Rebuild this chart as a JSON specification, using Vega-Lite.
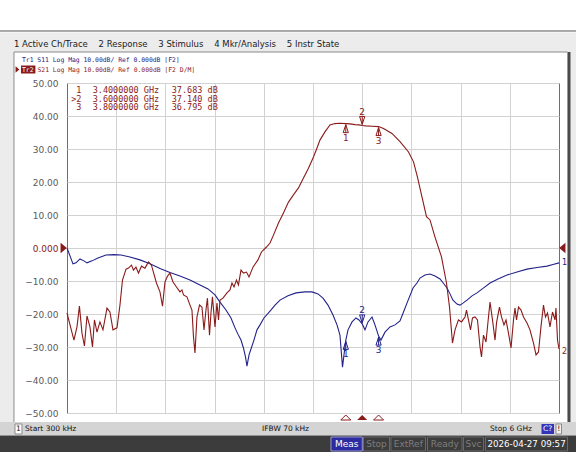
{
  "$schema": "https://vega.github.io/schema/vega-lite/v6.json",
  "width": 492,
  "height": 330,
  "autosize": "none",
  "padding": {"left": 67, "top": 83, "right": 17, "bottom": 41},
  "background": "white",
  "config": {
    "font": "DejaVu Sans",
    "view": {"stroke": "#6f6f6f", "strokeWidth": 1},
    "text": {"baseline": "middle"},
    "axis": {"labelOverlap": false},
    "axisX": {"grid": true, "gridColor": "#d2d2d2", "labels": false, "ticks": false, "domain": false},
    "axisY": {"grid": true, "gridColor": "#d2d2d2", "ticks": false, "domain": false, "labelFont": "DejaVu Sans", "labelFontSize": 9, "labelPadding": 9, "labelColor": "#5a5a5a", "labelOverlap": false}
  },
  "datasets": {
    "s21": [
      {"f":0.0003,"db":-19.7},{"f":0.037,"db":-23.3},{"f":0.085,"db":-27.9},{"f":0.122,"db":-23.9},{"f":0.152,"db":-17.6},{"f":0.183,"db":-25.8},{"f":0.213,"db":-29.7},{"f":0.244,"db":-20.6},{"f":0.28,"db":-23.9},{"f":0.311,"db":-30.0},{"f":0.335,"db":-21.8},{"f":0.366,"db":-25.5},{"f":0.402,"db":-22.4},{"f":0.439,"db":-24.8},{"f":0.488,"db":-18.2},{"f":0.524,"db":-19.4},{"f":0.561,"db":-24.8},{"f":0.61,"db":-24.2},{"f":0.646,"db":-17.3},{"f":0.677,"db":-9.7},{"f":0.72,"db":-6.4},{"f":0.75,"db":-6.1},{"f":0.787,"db":-5.2},{"f":0.811,"db":-6.7},{"f":0.841,"db":-5.8},{"f":0.872,"db":-7.6},{"f":0.909,"db":-5.5},{"f":0.951,"db":-6.1},{"f":0.994,"db":-4.2},{"f":1.03,"db":-5.2},{"f":1.091,"db":-10.6},{"f":1.134,"db":-13.3},{"f":1.165,"db":-17.6},{"f":1.195,"db":-10.3},{"f":1.226,"db":-8.5},{"f":1.256,"db":-7.6},{"f":1.293,"db":-10.3},{"f":1.335,"db":-11.8},{"f":1.378,"db":-13.3},{"f":1.402,"db":-12.7},{"f":1.421,"db":-14.2},{"f":1.463,"db":-14.8},{"f":1.5,"db":-17.3},{"f":1.524,"db":-18.8},{"f":1.543,"db":-27.0},{"f":1.561,"db":-31.8},{"f":1.585,"db":-20.9},{"f":1.616,"db":-17.3},{"f":1.646,"db":-17.9},{"f":1.671,"db":-24.8},{"f":1.695,"db":-18.8},{"f":1.713,"db":-15.2},{"f":1.738,"db":-26.4},{"f":1.756,"db":-19.7},{"f":1.774,"db":-14.8},{"f":1.805,"db":-23.9},{"f":1.829,"db":-16.7},{"f":1.848,"db":-21.8},{"f":1.866,"db":-15.8},{"f":1.902,"db":-15.2},{"f":1.951,"db":-13.6},{"f":1.988,"db":-12.7},{"f":2.012,"db":-10.6},{"f":2.037,"db":-11.8},{"f":2.067,"db":-9.7},{"f":2.091,"db":-11.2},{"f":2.122,"db":-6.7},{"f":2.152,"db":-7.6},{"f":2.189,"db":-7.3},{"f":2.22,"db":-8.8},{"f":2.268,"db":-5.8},{"f":2.329,"db":-3.6},{"f":2.372,"db":-1.2},{"f":2.433,"db":0.3},{"f":2.476,"db":1.5},{"f":2.518,"db":3.9},{"f":2.579,"db":7.6},{"f":2.64,"db":10.6},{"f":2.701,"db":13.9},{"f":2.762,"db":16.1},{"f":2.823,"db":18.2},{"f":2.884,"db":21.2},{"f":2.945,"db":24.2},{"f":3.006,"db":27.6},{"f":3.049,"db":30.3},{"f":3.085,"db":32.7},{"f":3.146,"db":35.2},{"f":3.207,"db":37.3},{"f":3.268,"db":37.7},{"f":3.329,"db":37.8},{"f":3.4,"db":37.683},{"f":3.451,"db":37.6},{"f":3.512,"db":37.4},{"f":3.561,"db":37.3},{"f":3.6,"db":37.14},{"f":3.646,"db":37.0},{"f":3.72,"db":36.9},{"f":3.8,"db":36.795},{"f":3.86,"db":36.2},{"f":3.963,"db":34.7},{"f":4.061,"db":32.2},{"f":4.165,"db":29.1},{"f":4.226,"db":26.1},{"f":4.274,"db":21.5},{"f":4.329,"db":15.5},{"f":4.384,"db":9.5},{"f":4.427,"db":8.5},{"f":4.488,"db":3.3},{"f":4.567,"db":-2.7},{"f":4.628,"db":-10.6},{"f":4.665,"db":-17.9},{"f":4.701,"db":-28.8},{"f":4.732,"db":-24.8},{"f":4.774,"db":-21.8},{"f":4.811,"db":-22.4},{"f":4.854,"db":-20.9},{"f":4.872,"db":-18.8},{"f":4.896,"db":-21.8},{"f":4.921,"db":-24.8},{"f":4.945,"db":-21.2},{"f":4.976,"db":-20.9},{"f":5.006,"db":-21.8},{"f":5.037,"db":-30.0},{"f":5.055,"db":-33.0},{"f":5.079,"db":-26.4},{"f":5.11,"db":-28.5},{"f":5.14,"db":-20.9},{"f":5.159,"db":-16.4},{"f":5.189,"db":-21.8},{"f":5.22,"db":-27.9},{"f":5.238,"db":-22.7},{"f":5.274,"db":-17.9},{"f":5.299,"db":-20.9},{"f":5.329,"db":-23.3},{"f":5.354,"db":-21.8},{"f":5.384,"db":-25.8},{"f":5.415,"db":-30.3},{"f":5.445,"db":-21.8},{"f":5.463,"db":-18.2},{"f":5.482,"db":-21.8},{"f":5.506,"db":-17.9},{"f":5.537,"db":-18.8},{"f":5.567,"db":-20.9},{"f":5.61,"db":-22.7},{"f":5.646,"db":-24.8},{"f":5.689,"db":-28.8},{"f":5.72,"db":-32.4},{"f":5.75,"db":-31.5},{"f":5.78,"db":-23.9},{"f":5.811,"db":-17.3},{"f":5.835,"db":-20.9},{"f":5.86,"db":-19.7},{"f":5.89,"db":-23.9},{"f":5.921,"db":-19.4},{"f":5.951,"db":-21.8},{"f":5.963,"db":-18.2},{"f":5.982,"db":-27.9},{"f":6.0,"db":-30.6}
    ],
    "s11": [
      {"f":0.0003,"db":0.0},{"f":0.037,"db":-2.4},{"f":0.073,"db":-4.8},{"f":0.11,"db":-4.5},{"f":0.159,"db":-3.3},{"f":0.207,"db":-3.9},{"f":0.244,"db":-4.5},{"f":0.305,"db":-3.9},{"f":0.378,"db":-3.0},{"f":0.476,"db":-2.1},{"f":0.573,"db":-2.0},{"f":0.659,"db":-2.1},{"f":0.768,"db":-2.7},{"f":0.89,"db":-3.6},{"f":1.012,"db":-4.8},{"f":1.134,"db":-6.2},{"f":1.256,"db":-7.4},{"f":1.378,"db":-8.5},{"f":1.5,"db":-9.7},{"f":1.622,"db":-11.2},{"f":1.72,"db":-12.4},{"f":1.805,"db":-14.2},{"f":1.866,"db":-16.4},{"f":1.939,"db":-18.8},{"f":2.0,"db":-21.2},{"f":2.049,"db":-24.2},{"f":2.085,"db":-26.1},{"f":2.122,"db":-27.9},{"f":2.152,"db":-30.3},{"f":2.177,"db":-33.0},{"f":2.195,"db":-35.8},{"f":2.22,"db":-32.4},{"f":2.244,"db":-30.6},{"f":2.28,"db":-27.9},{"f":2.317,"db":-24.8},{"f":2.354,"db":-23.3},{"f":2.402,"db":-21.2},{"f":2.476,"db":-19.1},{"f":2.537,"db":-17.3},{"f":2.598,"db":-15.8},{"f":2.695,"db":-14.5},{"f":2.793,"db":-13.6},{"f":2.902,"db":-13.3},{"f":2.988,"db":-13.3},{"f":3.061,"db":-13.9},{"f":3.122,"db":-15.2},{"f":3.183,"db":-17.3},{"f":3.244,"db":-20.3},{"f":3.293,"db":-23.3},{"f":3.329,"db":-26.4},{"f":3.36,"db":-36.1},{"f":3.378,"db":-32.4},{"f":3.4,"db":-28.0},{"f":3.427,"db":-24.8},{"f":3.476,"db":-22.4},{"f":3.524,"db":-21.2},{"f":3.561,"db":-21.8},{"f":3.6,"db":-23.0},{"f":3.634,"db":-24.8},{"f":3.671,"db":-22.4},{"f":3.72,"db":-20.9},{"f":3.756,"db":-23.3},{"f":3.8,"db":-26.7},{"f":3.829,"db":-27.9},{"f":3.878,"db":-25.5},{"f":3.939,"db":-23.9},{"f":4.0,"db":-23.3},{"f":4.061,"db":-22.1},{"f":4.104,"db":-19.4},{"f":4.146,"db":-16.7},{"f":4.22,"db":-12.1},{"f":4.268,"db":-10.6},{"f":4.305,"db":-9.1},{"f":4.366,"db":-8.2},{"f":4.427,"db":-7.9},{"f":4.488,"db":-8.5},{"f":4.549,"db":-9.4},{"f":4.598,"db":-10.9},{"f":4.634,"db":-12.1},{"f":4.671,"db":-13.9},{"f":4.707,"db":-15.8},{"f":4.756,"db":-17.0},{"f":4.793,"db":-17.3},{"f":4.829,"db":-16.7},{"f":4.878,"db":-15.8},{"f":4.939,"db":-14.5},{"f":5.0,"db":-13.6},{"f":5.085,"db":-12.0},{"f":5.159,"db":-10.6},{"f":5.256,"db":-9.4},{"f":5.366,"db":-8.2},{"f":5.488,"db":-7.3},{"f":5.61,"db":-6.4},{"f":5.732,"db":-5.9},{"f":5.854,"db":-5.5},{"f":5.927,"db":-5.0},{"f":6.0,"db":-4.5}
    ],
    "markers": [
      {"m":"1","label":"1","active":false,"f":3.4,"s21":37.683,"s11":-28.0,"freq":"3.4000000 GHz","val":"37.683 dB"},
      {"m":"2","label":">2","active":true,"f":3.6,"s21":37.14,"s11":-23.0,"freq":"3.6000000 GHz","val":"37.140 dB"},
      {"m":"3","label":"3","active":false,"f":3.8,"s21":36.795,"s11":-26.7,"freq":"3.8000000 GHz","val":"36.795 dB"}
    ]
  },
  "layer": [
    {"data": {"values": [{}]}, "mark": {"type": "rect", "color": "#ececec"},
     "encoding": {
       "x": {"datum": -0.8171, "type": "quantitative", "title": null, "scale": {"domain": [0.0003, 6], "nice": false, "zero": false}, "axis": {"title": null, "tickCount": 20, "values": [0.6, 1.2, 1.8, 2.4, 3, 3.6, 4.2, 4.8, 5.4]}},
       "x2": {"datum": 6.2073},
       "y": {"datum": 65.3, "type": "quantitative", "title": null, "scale": {"domain": [-50, 50], "nice": false, "zero": false},
             "axis": {"title": null, "tickCount": 20, "values": [-50, -40, -30, -20, -10, 0, 10, 20, 30, 40, 50], "labelOverlap": false, "labelExpr": "datum.value == 0 ? '0.000' : format(datum.value, '.2f')", "labelColor": {"condition": {"test": "datum.value == 0", "value": "#8b1a1a"}, "value": "#5a5a5a"}}},
       "y2": {"datum": 59.39}}},
    {"data": {"values": [{}]}, "mark": {"type": "rule", "color": "#555555", "strokeWidth": 1},
     "encoding": {"x": {"datum": -0.8171, "type": "quantitative"}, "x2": {"datum": 6.2073}, "y": {"datum": 65.76, "type": "quantitative"}}},
    {"data": {"values": [{}]}, "mark": {"type": "rect", "color": "#ececec"},
     "encoding": {"x": {"datum": -0.8171, "type": "quantitative"}, "x2": {"datum": -0.6463}, "y": {"datum": 59.39, "type": "quantitative"}, "y2": {"datum": -52.73}}},
    {"data": {"values": [{}]}, "mark": {"type": "rect", "color": "#ececec"},
     "encoding": {"x": {"datum": 6.0976, "type": "quantitative"}, "x2": {"datum": 6.2073}, "y": {"datum": 59.39, "type": "quantitative"}, "y2": {"datum": -52.73}}},
    {"data": {"values": [{}]}, "mark": {"type": "rect", "color": "#4a4a4a"},
     "encoding": {"x": {"datum": 6.1037, "type": "quantitative"}, "x2": {"datum": 6.1402}, "y": {"datum": 59.39, "type": "quantitative"}, "y2": {"datum": -52.73}}},
    {"data": {"values": [{}]}, "mark": {"type": "rule", "color": "#8a8a8a"},
     "encoding": {"x": {"datum": -0.6463, "type": "quantitative"}, "y": {"datum": 59.39, "type": "quantitative"}, "y2": {"datum": -52.73}}},
    {"data": {"values": [{}]}, "mark": {"type": "rule", "color": "#8a8a8a"},
     "encoding": {"x": {"datum": -0.6463, "type": "quantitative"}, "x2": {"datum": 6.1037}, "y": {"datum": 59.39, "type": "quantitative"}}},
    {"data": {"values": [{}]}, "mark": {"type": "rect", "color": "#d4d4d4"},
     "encoding": {"x": {"datum": -0.8171, "type": "quantitative"}, "x2": {"datum": 6.2073}, "y": {"datum": -52.73, "type": "quantitative"}, "y2": {"datum": -56.82}}},
    {"data": {"values": [{}]}, "mark": {"type": "rect", "color": "#3c3c3c"},
     "encoding": {"x": {"datum": -0.8171, "type": "quantitative"}, "x2": {"datum": 6.2073}, "y": {"datum": -56.82, "type": "quantitative"}, "y2": {"datum": -61.82}}},
    {"data": {"values": [{}]}, "mark": {"type": "rect", "fill": "white", "stroke": "#8a8a8a"},
     "encoding": {"x": {"datum": -0.634, "type": "quantitative"}, "x2": {"datum": -0.549}, "y": {"datum": -53.33, "type": "quantitative"}, "y2": {"datum": -56.36}}},
    {"data": {"values": [{}]}, "mark": {"type": "rect", "fill": "#3434b8"},
     "encoding": {"x": {"datum": 5.7866, "type": "quantitative"}, "x2": {"datum": 5.939}, "y": {"datum": -53.33, "type": "quantitative"}, "y2": {"datum": -56.36}}},
    {"data": {"values": [{}]}, "mark": {"type": "rect", "fill": "#f0f0f0", "stroke": "#8a8a8a"},
     "encoding": {"x": {"datum": 5.9634, "type": "quantitative"}, "x2": {"datum": 6.0305}, "y": {"datum": -53.33, "type": "quantitative"}, "y2": {"datum": -56.36}}},
    {"data": {"values": [{}]}, "mark": {"type": "rect", "fill": "#2c2ca0", "stroke": "#9a9ad8"},
     "encoding": {"x": {"datum": 3.2195, "type": "quantitative"}, "x2": {"datum": 3.6012}, "y": {"datum": -57.27, "type": "quantitative"}, "y2": {"datum": -61.52}}},
    {"data": {"values": [{}]}, "mark": {"type": "rect", "fillOpacity": 0, "stroke": "#6a6a6a"},
     "encoding": {"x": {"datum": 3.6159, "type": "quantitative"}, "x2": {"datum": 3.9329}, "y": {"datum": -57.27, "type": "quantitative"}, "y2": {"datum": -61.52}}},
    {"data": {"values": [{}]}, "mark": {"type": "rect", "fillOpacity": 0, "stroke": "#6a6a6a"},
     "encoding": {"x": {"datum": 3.9512, "type": "quantitative"}, "x2": {"datum": 4.372}, "y": {"datum": -57.27, "type": "quantitative"}, "y2": {"datum": -61.52}}},
    {"data": {"values": [{}]}, "mark": {"type": "rect", "fillOpacity": 0, "stroke": "#6a6a6a"},
     "encoding": {"x": {"datum": 4.3963, "type": "quantitative"}, "x2": {"datum": 4.8171}, "y": {"datum": -57.27, "type": "quantitative"}, "y2": {"datum": -61.52}}},
    {"data": {"values": [{}]}, "mark": {"type": "rect", "fillOpacity": 0, "stroke": "#6a6a6a"},
     "encoding": {"x": {"datum": 4.8354, "type": "quantitative"}, "x2": {"datum": 5.0793}, "y": {"datum": -57.27, "type": "quantitative"}, "y2": {"datum": -61.52}}},
    {"data": {"values": [{}]}, "mark": {"type": "rect", "fillOpacity": 0, "stroke": "#6a6a6a"},
     "encoding": {"x": {"datum": 5.1037, "type": "quantitative"}, "x2": {"datum": 6.1037}, "y": {"datum": -57.27, "type": "quantitative"}, "y2": {"datum": -61.52}}},
    {"data": {"values": [{}]}, "mark": {"type": "text", "align": "left", "fontSize": 8.5, "color": "#1a1a1a"},
     "encoding": {"x": {"datum": -0.6463, "type": "quantitative"}, "y": {"datum": 61.67, "type": "quantitative"}, "text": {"value": "1 Active Ch/Trace\u00a0\u00a0\u00a0 2 Response\u00a0\u00a0\u00a0 3 Stimulus\u00a0\u00a0\u00a0 4 Mkr/Analysis\u00a0\u00a0\u00a0 5 Instr State"}}},
    {"data": {"values": [{}]}, "mark": {"type": "text", "align": "left", "font": "DejaVu Sans Mono", "fontSize": 6.4, "color": "#1c1c80"},
     "encoding": {"x": {"datum": -0.549, "type": "quantitative"}, "y": {"datum": 56.82, "type": "quantitative"}, "text": {"value": "Tr1 S11 Log Mag 10.00dB/ Ref 0.000dB [F2]"}}},
    {"data": {"values": [{}]}, "mark": {"type": "rect", "fill": "#8b1a1a"},
     "encoding": {"x": {"datum": -0.561, "type": "quantitative"}, "x2": {"datum": -0.385}, "y": {"datum": 55.3, "type": "quantitative"}, "y2": {"datum": 52.88}}},
    {"data": {"values": [{}]}, "mark": {"type": "text", "align": "left", "font": "DejaVu Sans Mono", "fontSize": 6.4, "color": "white"},
     "encoding": {"x": {"datum": -0.549, "type": "quantitative"}, "y": {"datum": 54.09, "type": "quantitative"}, "text": {"value": "Tr2"}}},
    {"data": {"values": [{}]}, "mark": {"type": "point", "shape": "M-0.6,-1L0.6,0L-0.6,1Z", "size": 40, "filled": true, "opacity": 1, "color": "#8b1a1a"},
     "encoding": {"x": {"datum": -0.6037, "type": "quantitative"}, "y": {"datum": 54.09, "type": "quantitative"}}},
    {"data": {"values": [{}]}, "mark": {"type": "text", "align": "left", "font": "DejaVu Sans Mono", "fontSize": 6.4, "color": "#8b1a1a"},
     "encoding": {"x": {"datum": -0.36, "type": "quantitative"}, "y": {"datum": 54.09, "type": "quantitative"}, "text": {"value": "S21 Log Mag 10.00dB/ Ref 0.000dB [F2 D/M]"}}},
    {"data": {"values": [{}]}, "mark": {"type": "text", "align": "center", "fontSize": 7.5, "color": "#111111"},
     "encoding": {"x": {"datum": -0.5915, "type": "quantitative"}, "y": {"datum": -54.85, "type": "quantitative"}, "text": {"value": "1"}}},
    {"data": {"values": [{}]}, "mark": {"type": "text", "align": "left", "fontSize": 7.5, "color": "#111111"},
     "encoding": {"x": {"datum": -0.5122, "type": "quantitative"}, "y": {"datum": -54.85, "type": "quantitative"}, "text": {"value": "Start 300 kHz"}}},
    {"data": {"values": [{}]}, "mark": {"type": "text", "align": "left", "fontSize": 7.5, "color": "#111111"},
     "encoding": {"x": {"datum": 2.378, "type": "quantitative"}, "y": {"datum": -54.85, "type": "quantitative"}, "text": {"value": "IFBW 70 kHz"}}},
    {"data": {"values": [{}]}, "mark": {"type": "text", "align": "right", "fontSize": 7.5, "color": "#111111"},
     "encoding": {"x": {"datum": 5.6707, "type": "quantitative"}, "y": {"datum": -54.85, "type": "quantitative"}, "text": {"value": "Stop 6 GHz"}}},
    {"data": {"values": [{}]}, "mark": {"type": "text", "align": "center", "fontSize": 7.5, "color": "white"},
     "encoding": {"x": {"datum": 5.862, "type": "quantitative"}, "y": {"datum": -54.85, "type": "quantitative"}, "text": {"value": "C?"}}},
    {"data": {"values": [{}]}, "mark": {"type": "text", "align": "center", "fontSize": 7.5, "color": "#111111"},
     "encoding": {"x": {"datum": 5.997, "type": "quantitative"}, "y": {"datum": -54.85, "type": "quantitative"}, "text": {"value": "!"}}},
    {"data": {"values": [{}]}, "mark": {"type": "text", "align": "center", "fontSize": 9, "color": "white"},
     "encoding": {"x": {"datum": 3.411, "type": "quantitative"}, "y": {"datum": -59.39, "type": "quantitative"}, "text": {"value": "Meas"}}},
    {"data": {"values": [{}]}, "mark": {"type": "text", "align": "center", "fontSize": 9, "color": "#7e7e7e"},
     "encoding": {"x": {"datum": 3.774, "type": "quantitative"}, "y": {"datum": -59.39, "type": "quantitative"}, "text": {"value": "Stop"}}},
    {"data": {"values": [{}]}, "mark": {"type": "text", "align": "center", "fontSize": 9, "color": "#7e7e7e"},
     "encoding": {"x": {"datum": 4.162, "type": "quantitative"}, "y": {"datum": -59.39, "type": "quantitative"}, "text": {"value": "ExtRef"}}},
    {"data": {"values": [{}]}, "mark": {"type": "text", "align": "center", "fontSize": 9, "color": "#7e7e7e"},
     "encoding": {"x": {"datum": 4.607, "type": "quantitative"}, "y": {"datum": -59.39, "type": "quantitative"}, "text": {"value": "Ready"}}},
    {"data": {"values": [{}]}, "mark": {"type": "text", "align": "center", "fontSize": 9, "color": "#7e7e7e"},
     "encoding": {"x": {"datum": 4.957, "type": "quantitative"}, "y": {"datum": -59.39, "type": "quantitative"}, "text": {"value": "Svc"}}},
    {"data": {"values": [{}]}, "mark": {"type": "text", "align": "center", "fontSize": 8.7, "color": "white"},
     "encoding": {"x": {"datum": 5.604, "type": "quantitative"}, "y": {"datum": -59.39, "type": "quantitative"}, "text": {"value": "2026-04-27 09:57"}}},
    {"data": {"name": "s11"}, "mark": {"type": "line", "color": "#22228a", "strokeWidth": 1.1},
     "encoding": {"x": {"field": "f", "type": "quantitative", "title": null}, "y": {"field": "db", "type": "quantitative", "title": null}}},
    {"data": {"name": "s21"}, "mark": {"type": "line", "color": "#8b1a1a", "strokeWidth": 1.1},
     "encoding": {"x": {"field": "f", "type": "quantitative", "title": null}, "y": {"field": "db", "type": "quantitative", "title": null}}},
    {"data": {"name": "s11"}, "transform": [{"filter": "datum.f >= 6"}], "mark": {"type": "text", "align": "left", "dx": 3, "fontSize": 8, "color": "#22228a"},
     "encoding": {"x": {"field": "f", "type": "quantitative", "title": null}, "y": {"field": "db", "type": "quantitative", "title": null}, "text": {"value": "1"}}},
    {"data": {"name": "s21"}, "transform": [{"filter": "datum.f >= 6"}], "mark": {"type": "text", "align": "left", "dx": 3, "dy": 3, "fontSize": 8, "color": "#8b1a1a"},
     "encoding": {"x": {"field": "f", "type": "quantitative", "title": null}, "y": {"field": "db", "type": "quantitative", "title": null}, "text": {"value": "2"}}},
    {"data": {"values": [{}]}, "mark": {"type": "point", "shape": "M-0.6,-1L0.6,0L-0.6,1Z", "size": 110, "filled": true, "opacity": 1, "color": "#8b1a1a", "xOffset": -3.3},
     "encoding": {"x": {"datum": 0.0003, "type": "quantitative"}, "y": {"datum": 0, "type": "quantitative"}}},
    {"data": {"values": [{}]}, "mark": {"type": "point", "shape": "M0.6,-1L-0.6,0L0.6,1Z", "size": 110, "filled": true, "opacity": 1, "color": "#8b1a1a", "xOffset": 3.3},
     "encoding": {"x": {"datum": 6, "type": "quantitative"}, "y": {"datum": 0, "type": "quantitative"}}},
    {"data": {"name": "markers"}, "transform": [{"filter": "!datum.active"}],
     "layer": [
       {"mark": {"type": "point", "shape": "M0,-1L0.65,1L-0.65,1Z M0,-1L0,1", "size": 64, "filled": false, "opacity": 1, "color": "#8b1a1a", "strokeWidth": 1, "yOffset": 5},
        "encoding": {"x": {"field": "f", "type": "quantitative", "title": null}, "y": {"field": "s21", "type": "quantitative", "title": null}}},
       {"mark": {"type": "text", "fontSize": 9, "color": "#8b1a1a", "dy": 14},
        "encoding": {"x": {"field": "f", "type": "quantitative", "title": null}, "y": {"field": "s21", "type": "quantitative", "title": null}, "text": {"field": "m"}}},
       {"mark": {"type": "point", "shape": "M0,-1L0.65,1L-0.65,1Z M0,-1L0,1", "size": 64, "filled": false, "opacity": 1, "color": "#22228a", "strokeWidth": 1, "yOffset": 5},
        "encoding": {"x": {"field": "f", "type": "quantitative", "title": null}, "y": {"field": "s11", "type": "quantitative", "title": null}}},
       {"mark": {"type": "text", "fontSize": 9, "color": "#22228a", "dy": 14},
        "encoding": {"x": {"field": "f", "type": "quantitative", "title": null}, "y": {"field": "s11", "type": "quantitative", "title": null}, "text": {"field": "m"}}},
       {"mark": {"type": "point", "shape": "M0,-0.5L1,0.5L-1,0.5Z", "size": 100, "filled": false, "opacity": 1, "color": "#8b1a1a", "strokeWidth": 1, "yOffset": 4.5},
        "encoding": {"x": {"field": "f", "type": "quantitative", "title": null}, "y": {"datum": -50, "type": "quantitative"}}}
     ]},
    {"data": {"name": "markers"}, "transform": [{"filter": "datum.active"}],
     "layer": [
       {"mark": {"type": "point", "shape": "M0,1L0.65,-1L-0.65,-1Z M0,1L0,-1", "size": 64, "filled": false, "opacity": 1, "color": "#8b1a1a", "strokeWidth": 1, "yOffset": -5},
        "encoding": {"x": {"field": "f", "type": "quantitative", "title": null}, "y": {"field": "s21", "type": "quantitative", "title": null}}},
       {"mark": {"type": "text", "fontSize": 9, "color": "#8b1a1a", "dy": -13.5},
        "encoding": {"x": {"field": "f", "type": "quantitative", "title": null}, "y": {"field": "s21", "type": "quantitative", "title": null}, "text": {"field": "m"}}},
       {"mark": {"type": "point", "shape": "M0,1L0.65,-1L-0.65,-1Z M0,1L0,-1", "size": 64, "filled": false, "opacity": 1, "color": "#22228a", "strokeWidth": 1, "yOffset": -5},
        "encoding": {"x": {"field": "f", "type": "quantitative", "title": null}, "y": {"field": "s11", "type": "quantitative", "title": null}}},
       {"mark": {"type": "text", "fontSize": 9, "color": "#22228a", "dy": -13.5},
        "encoding": {"x": {"field": "f", "type": "quantitative", "title": null}, "y": {"field": "s11", "type": "quantitative", "title": null}, "text": {"field": "m"}}},
       {"mark": {"type": "point", "shape": "M0,-0.5L1,0.5L-1,0.5Z", "size": 100, "filled": true, "opacity": 1, "color": "#8b1a1a", "yOffset": 4.5},
        "encoding": {"x": {"field": "f", "type": "quantitative", "title": null}, "y": {"datum": -50, "type": "quantitative"}}}
     ]},
    {"data": {"name": "markers"}, "transform": [{"filter": "datum.m == '1'"}],
     "encoding": {"y": {"datum": 47.73, "type": "quantitative"}},
     "layer": [
       {"mark": {"type": "text", "align": "right", "font": "DejaVu Sans Mono", "fontSize": 8.5, "color": "#8b1a1a"}, "encoding": {"x": {"datum": 0.177, "type": "quantitative"}, "text": {"field": "label"}}},
       {"mark": {"type": "text", "align": "left", "font": "DejaVu Sans Mono", "fontSize": 8.5, "color": "#8b1a1a"}, "encoding": {"x": {"datum": 0.313, "type": "quantitative"}, "text": {"field": "freq"}}},
       {"mark": {"type": "text", "align": "left", "font": "DejaVu Sans Mono", "fontSize": 8.5, "color": "#8b1a1a"}, "encoding": {"x": {"datum": 1.277, "type": "quantitative"}, "text": {"field": "val"}}}
     ]},
    {"data": {"name": "markers"}, "transform": [{"filter": "datum.m == '2'"}],
     "encoding": {"y": {"datum": 45.15, "type": "quantitative"}},
     "layer": [
       {"mark": {"type": "text", "align": "right", "font": "DejaVu Sans Mono", "fontSize": 8.5, "color": "#8b1a1a"}, "encoding": {"x": {"datum": 0.177, "type": "quantitative"}, "text": {"field": "label"}}},
       {"mark": {"type": "text", "align": "left", "font": "DejaVu Sans Mono", "fontSize": 8.5, "color": "#8b1a1a"}, "encoding": {"x": {"datum": 0.313, "type": "quantitative"}, "text": {"field": "freq"}}},
       {"mark": {"type": "text", "align": "left", "font": "DejaVu Sans Mono", "fontSize": 8.5, "color": "#8b1a1a"}, "encoding": {"x": {"datum": 1.277, "type": "quantitative"}, "text": {"field": "val"}}}
     ]},
    {"data": {"name": "markers"}, "transform": [{"filter": "datum.m == '3'"}],
     "encoding": {"y": {"datum": 42.58, "type": "quantitative"}},
     "layer": [
       {"mark": {"type": "text", "align": "right", "font": "DejaVu Sans Mono", "fontSize": 8.5, "color": "#8b1a1a"}, "encoding": {"x": {"datum": 0.177, "type": "quantitative"}, "text": {"field": "label"}}},
       {"mark": {"type": "text", "align": "left", "font": "DejaVu Sans Mono", "fontSize": 8.5, "color": "#8b1a1a"}, "encoding": {"x": {"datum": 0.313, "type": "quantitative"}, "text": {"field": "freq"}}},
       {"mark": {"type": "text", "align": "left", "font": "DejaVu Sans Mono", "fontSize": 8.5, "color": "#8b1a1a"}, "encoding": {"x": {"datum": 1.277, "type": "quantitative"}, "text": {"field": "val"}}}
     ]}
  ]
}
